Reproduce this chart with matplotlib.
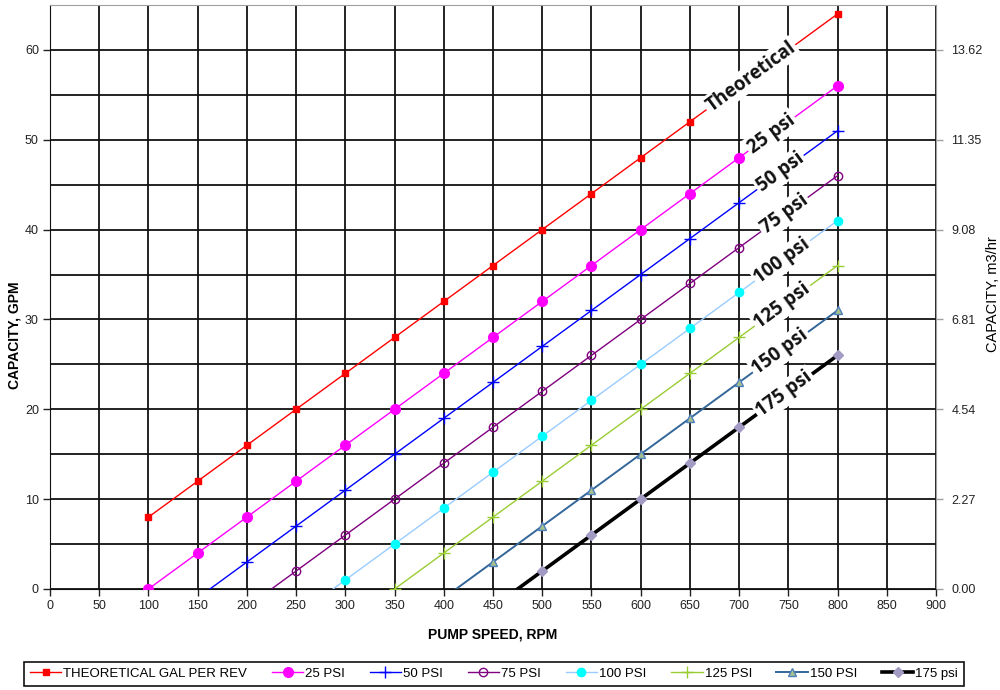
import matplotlib
matplotlib.use("Agg")
import matplotlib.pyplot as plt
import numpy as np

# pump speed (rpm) -- the first points of the pressure curves fall below 0 and get clipped by the axis
rpm = [100, 150, 200, 250, 300, 350, 400, 450, 500, 550, 600, 650, 700, 750, 800]

theoretical = [8, 12, 16, 20, 24, 28, 32, 36, 40, 44, 48, 52, 56, 60, 64]
psi_25 = [0, 4, 8, 12, 16, 20, 24, 28, 32, 36, 40, 44, 48, 52, 56]
psi_50 = [None, -1, 3, 7, 11, 15, 19, 23, 27, 31, 35, 39, 43, 47, 51]
psi_75 = [None, None, -2, 2, 6, 10, 14, 18, 22, 26, 30, 34, 38, 42, 46]
psi_100 = [None, None, None, -3, 1, 5, 9, 13, 17, 21, 25, 29, 33, 37, 41]
psi_125 = [None, None, None, None, None, 0, 4, 8, 12, 16, 20, 24, 28, 32, 36]
psi_150 = [None, None, None, None, None, None, -1, 3, 7, 11, 15, 19, 23, 27, 31]
psi_175 = [None, None, None, None, None, None, None, -2, 2, 6, 10, 14, 18, 22, 26]

legend_names = ["THEORETICAL GAL PER REV", "25 PSI", "50 PSI", "75 PSI",
                "100 PSI", "125 PSI", "150 PSI", "175 psi"]
curve_labels = ["Theoretical", "25 psi", "50 psi", "75 psi",
                 "100 psi", "125 psi", "150 psi", "175 psi"]

x_ticks = list(range(0, 901, 50))
gpm_ticks = [0, 10, 20, 30, 40, 50, 60]
m3hr_labels = ["0.00", "2.27", "4.54", "6.81", "9.08", "11.35", "13.62"]
GPM_TO_M3HR = 0.227

# label centres along the x axis (layout only)
label_x = [712, 733, 742, 746, 744, 744, 742, 746]

styles = [
    dict(color="#FF0000", lw=1.0, marker="s", ms=4, mfc="#FF0000", mec="#FF0000"),
    dict(color="#FF00FF", lw=1.0, marker="o", ms=7, mfc="#FF00FF", mec="#FF00FF"),
    dict(color="#0000FF", lw=1.0, marker="+", ms=8, mfc="#0000FF", mec="#0000FF"),
    dict(color="#800080", lw=1.0, marker="o", ms=6, mfc="none", mec="#800080"),
    dict(color="#99CCFF", lw=1.0, marker="o", ms=6, mfc="#00FFFF", mec="#00FFFF"),
    dict(color="#99CC33", lw=1.0, marker="+", ms=8, mfc="#99CC33", mec="#99CC33"),
    dict(color="#336699", lw=1.4, marker="^", ms=6, mfc="#A8C08C", mec="#4F81BD"),
    dict(color="#000000", lw=2.6, marker="D", ms=5, mfc="#A39BC3", mec="#A39BC3"),
]

plt.rcParams["font.family"] = ["Liberation Sans", "DejaVu Sans"]

fig = plt.figure(figsize=(10, 6.9), dpi=100)
ax = fig.add_axes([0.05, 0.1464, 0.886, 0.8464])

series = [theoretical, psi_25, psi_50, psi_75, psi_100, psi_125, psi_150, psi_175]
handles = []
for vals, st, name in zip(series, styles, legend_names):
    xs = [r for r, v in zip(rpm, vals) if v is not None]
    ys = [v for v in vals if v is not None]
    h, = ax.plot(xs, ys, label=name, zorder=3, **st)
    handles.append(h)

ax.set_xlim(0, 900)
ax.set_ylim(0, 65)
ax.set_xticks(x_ticks)
ax.set_yticks(gpm_ticks)
ax.set_yticks(np.arange(5, 65, 10), minor=True)
ax.tick_params(axis="y", which="minor", length=0)
ax.tick_params(axis="both", which="major", length=5, width=1, labelsize=9,
               colors="#222222", pad=3)
ax.grid(True, which="both", color="#111111", linewidth=1.3, zorder=1)
ax.set_axisbelow(True)

for side in ["top", "right"]:
    ax.spines[side].set_color("#A0A0A0")
ax.spines["left"].set_color("#111111")
ax.spines["bottom"].set_color("#111111")

ax.set_xlabel("PUMP SPEED, RPM", fontsize=10, fontweight="bold", labelpad=11)
ax.set_ylabel("CAPACITY, GPM", fontsize=10, fontweight="bold")
ax.yaxis.set_label_coords(-0.032, 0.435)

ax2 = ax.twinx()
ax2.set_position(ax.get_position())
ax2.set_ylim(0, 65 * GPM_TO_M3HR)
ax2.set_yticks([g * GPM_TO_M3HR for g in gpm_ticks])
ax2.set_yticklabels(m3hr_labels)
ax2.tick_params(axis="y", length=5, width=1, labelsize=9, colors="#222222",
                pad=6)
ax2.tick_params(axis="y", color="#A0A0A0")
for side in ["top", "right", "left", "bottom"]:
    ax2.spines[side].set_visible(False)
ax.spines["right"].set_visible(True)
ax2.set_ylabel("CAPACITY, m3/hr", fontsize=10.5)
ax2.yaxis.set_label_coords(1.056, 0.505)

# slanted curve labels sitting on each line
fig.canvas.draw()
for vals, lx, txt in zip(series, label_x, curve_labels):
    xs = np.array([r for r, v in zip(rpm, vals) if v is not None], float)
    ys = np.array([v for v in vals if v is not None], float)
    ly = np.interp(lx, xs, ys)
    p0 = ax.transData.transform((xs[0], ys[0]))
    p1 = ax.transData.transform((xs[-1], ys[-1]))
    ang = np.degrees(np.arctan2(p1[1] - p0[1], p1[0] - p0[0]))
    ax.text(lx, ly, txt, rotation=ang, rotation_mode="anchor",
            ha="center", va="center", fontsize=13.5, fontweight="bold",
            family=["Open Sans", "DejaVu Sans"], color="#111111", zorder=5,
            bbox=dict(facecolor="white", edgecolor="none", pad=1.5))

leg = fig.legend(handles=handles, loc="center", bbox_to_anchor=(0.494, 0.0232),
                 bbox_transform=fig.transFigure, ncol=8, fontsize=9.5,
                 frameon=True, fancybox=False, edgecolor="#111111",
                 framealpha=1, handlelength=2.4, handletextpad=0.15,
                 columnspacing=1.85, borderpad=0.45)
leg.get_frame().set_linewidth(1.2)

fig.savefig("out.png", dpi=100)
